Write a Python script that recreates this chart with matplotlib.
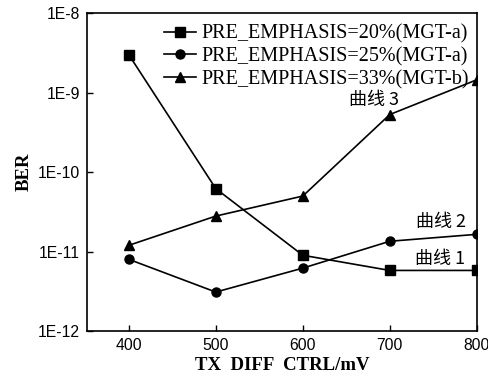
import matplotlib
matplotlib.use("Agg")
import matplotlib.pyplot as plt
from matplotlib.ticker import FixedLocator, NullLocator

tx_diff = [400, 500, 600, 700, 800]
ber_20 = [3.0e-9, 6.2e-11, 9.0e-12, 5.8e-12, 5.8e-12]
ber_25 = [8.0e-12, 3.1e-12, 6.2e-12, 1.35e-11, 1.65e-11]
ber_33 = [1.2e-11, 2.8e-11, 5.0e-11, 5.3e-10, 1.45e-9]

labels = ["PRE_EMPHASIS=20%(MGT-a)",
          "PRE_EMPHASIS=25%(MGT-a)",
          "PRE_EMPHASIS=33%(MGT-b)"]
y_ticks = [1e-12, 1e-11, 1e-10, 1e-9, 1e-8]
y_tick_labels = ["1E-12", "1E-11", "1E-10", "1E-9", "1E-8"]

cjk = ["Noto Sans CJK SC", "DejaVu Sans"]

fig = plt.figure(figsize=(4.89, 3.75), dpi=100)
ax = fig.add_axes([0.178, 0.117, 0.797, 0.848])

ax.plot(tx_diff, ber_20, color="black", marker="s", markersize=6.5, lw=1.2, label=labels[0])
ax.plot(tx_diff, ber_25, color="black", marker="o", markersize=6.5, lw=1.2, label=labels[1])
ax.plot(tx_diff, ber_33, color="black", marker="^", markersize=7.5, lw=1.2, label=labels[2])

ax.set_yscale("log")
ax.set_ylim(1e-12, 1e-8)
ax.set_xlim(352, 800)
ax.yaxis.set_major_locator(FixedLocator(y_ticks))
ax.yaxis.set_minor_locator(NullLocator())
ax.set_yticklabels(y_tick_labels, fontfamily="Liberation Sans", fontsize=11.3)
ax.set_xticks(tx_diff)
ax.set_xticklabels([str(v) for v in tx_diff], fontfamily="Liberation Sans", fontsize=11.3)
ax.tick_params(direction="in", length=4, width=1, pad=5)

for s in ax.spines.values():
    s.set_linewidth(1.2)

ax.set_xlabel("TX  DIFF  CTRL/mV", fontfamily="Liberation Serif", fontweight="bold", fontsize=13.5, labelpad=3)
ax.set_ylabel("BER", fontfamily="Liberation Serif", fontweight="bold", fontsize=13.5, labelpad=4)

ax.legend(loc="upper right", frameon=False, prop={"family": "Liberation Serif", "size": 14.5},
          handlelength=1.6, handletextpad=0.25, labelspacing=0.18,
          borderaxespad=0.0, bbox_to_anchor=(1.0, 0.99))

ax.text(711, 8.0e-10, "曲线 3", family=cjk, fontsize=13, ha="right", va="center")
ax.text(788, 2.35e-11, "曲线 2", family=cjk, fontsize=13, ha="right", va="center")
ax.text(787, 8.0e-12, "曲线 1", family=cjk, fontsize=13, ha="right", va="center")

fig.savefig("out.png", dpi=100)
